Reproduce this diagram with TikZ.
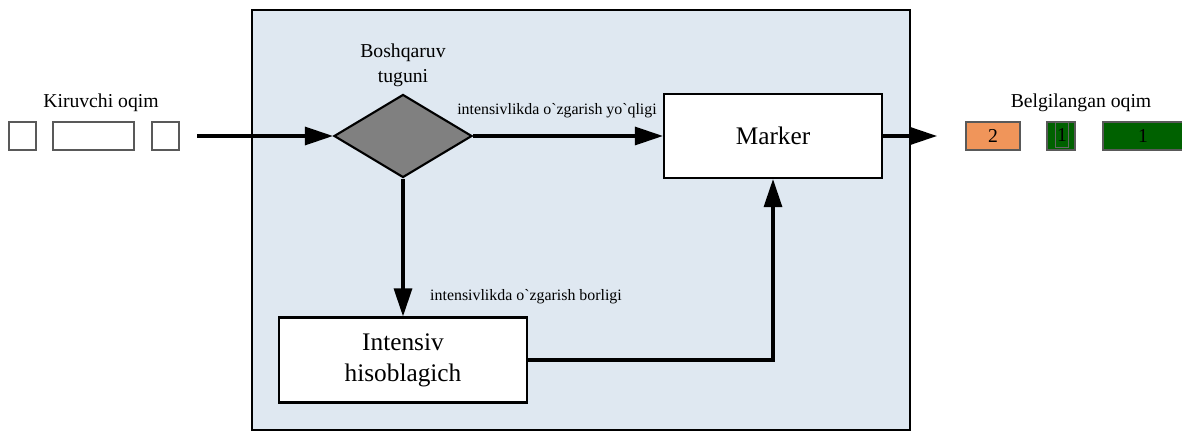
\documentclass[tikz,border=0pt]{standalone}
\usepackage{fontspec}
\setmainfont{Liberation Serif}
\newfontfamily\notefont{Liberation Serif}
\usetikzlibrary{arrows.meta, positioning, shapes.geometric}
\definecolor{panelblue}{HTML}{DFE8F1}
\definecolor{markorange}{HTML}{F0955A}
\definecolor{markgreen}{HTML}{006100}

\begin{document}
\begin{tikzpicture}[x=0.025cm, y=-0.025cm,
      box/.style={draw, line width=1.5pt, fill=white, align=center, inner sep=0pt,
        font=\fontsize{18}{22}\selectfont},
      pkt/.style={draw=black!65, line width=0.8pt, fill=white, inner sep=0pt,
        minimum height=0.7cm, font=\fontsize{14}{16}\selectfont},
      flow/.style={line width=2.2pt, -{Triangle[length=0.7cm, width=0.45cm]}},
      note/.style={font=\notefont\fontsize{11.3}{13}\selectfont, inner sep=0pt},
      title/.style={align=center, inner sep=0pt},
      >=Stealth
    ]
    \useasboundingbox (0,0) rectangle (1182,432);
    \draw[line width=1.5pt, fill=panelblue] (252,10) rectangle (910,430);

    \node[diamond, draw, line width=1.5pt, fill=black!50, inner sep=0pt,
      minimum width=3.45cm, minimum height=2.075cm] (node) at (403,136) {};
    \node[title, font=\fontsize{14}{18}\selectfont] (nodetitle) at (403,65) {Boshqaruv\\tuguni};
    \node[box, minimum width=5.45cm, minimum height=2.1cm] (marker) at (773,136) {Marker};
    \node[box, minimum width=6.2cm, minimum height=2.125cm] (counter) at (403,360) {Intensiv\\hisoblagich};

    \node[note] (nochange) at (557,111) {intensivlikda o`zgarish yo`qligi};
    \node[note] (change) at (526,297) {intensivlikda o`zgarish borligi};

    \node[title, font=\fontsize{14}{16}\selectfont] (intitle) at (101,103) {Kiruvchi oqim};
    \node[pkt, minimum width=0.675cm] (in1) at (22.5,136) {};
    \node[pkt, minimum width=2.025cm] (in2) at (93.5,136) {};
    \node[pkt, minimum width=0.675cm] (in3) at (165.5,136) {};

    \node[title, font=\fontsize{14}{16}\selectfont] (outtitle) at (1081,103) {Belgilangan oqim};
    \node[pkt, fill=markorange, minimum width=1.35cm] (out1) at (993,136) {2};
    \node[pkt, fill=markgreen, minimum width=0.7cm] (out2) at (1061,136) {};
    \node[draw=black!60, line width=0.6pt, inner sep=0pt, minimum width=0.33cm,
      minimum height=0.62cm, font=\fontsize{14}{16}\selectfont] (out2txt) at (1062,135) {1};
    \node[pkt, fill=markgreen, minimum width=2cm] (out3) at (1143,136) {1};

    \coordinate (inflow) at (197,136);
    \coordinate (outflow) at (937,136);

    \draw[flow] (inflow) -- (node.west);
    \draw[flow] (node.east) -- (marker.west);
    \draw[flow] (node.south) -- (counter.north);
    \draw[flow] (counter.east) -| (marker.south);
    \draw[flow] (marker.east) -- (outflow);
  \end{tikzpicture}
\end{document}
